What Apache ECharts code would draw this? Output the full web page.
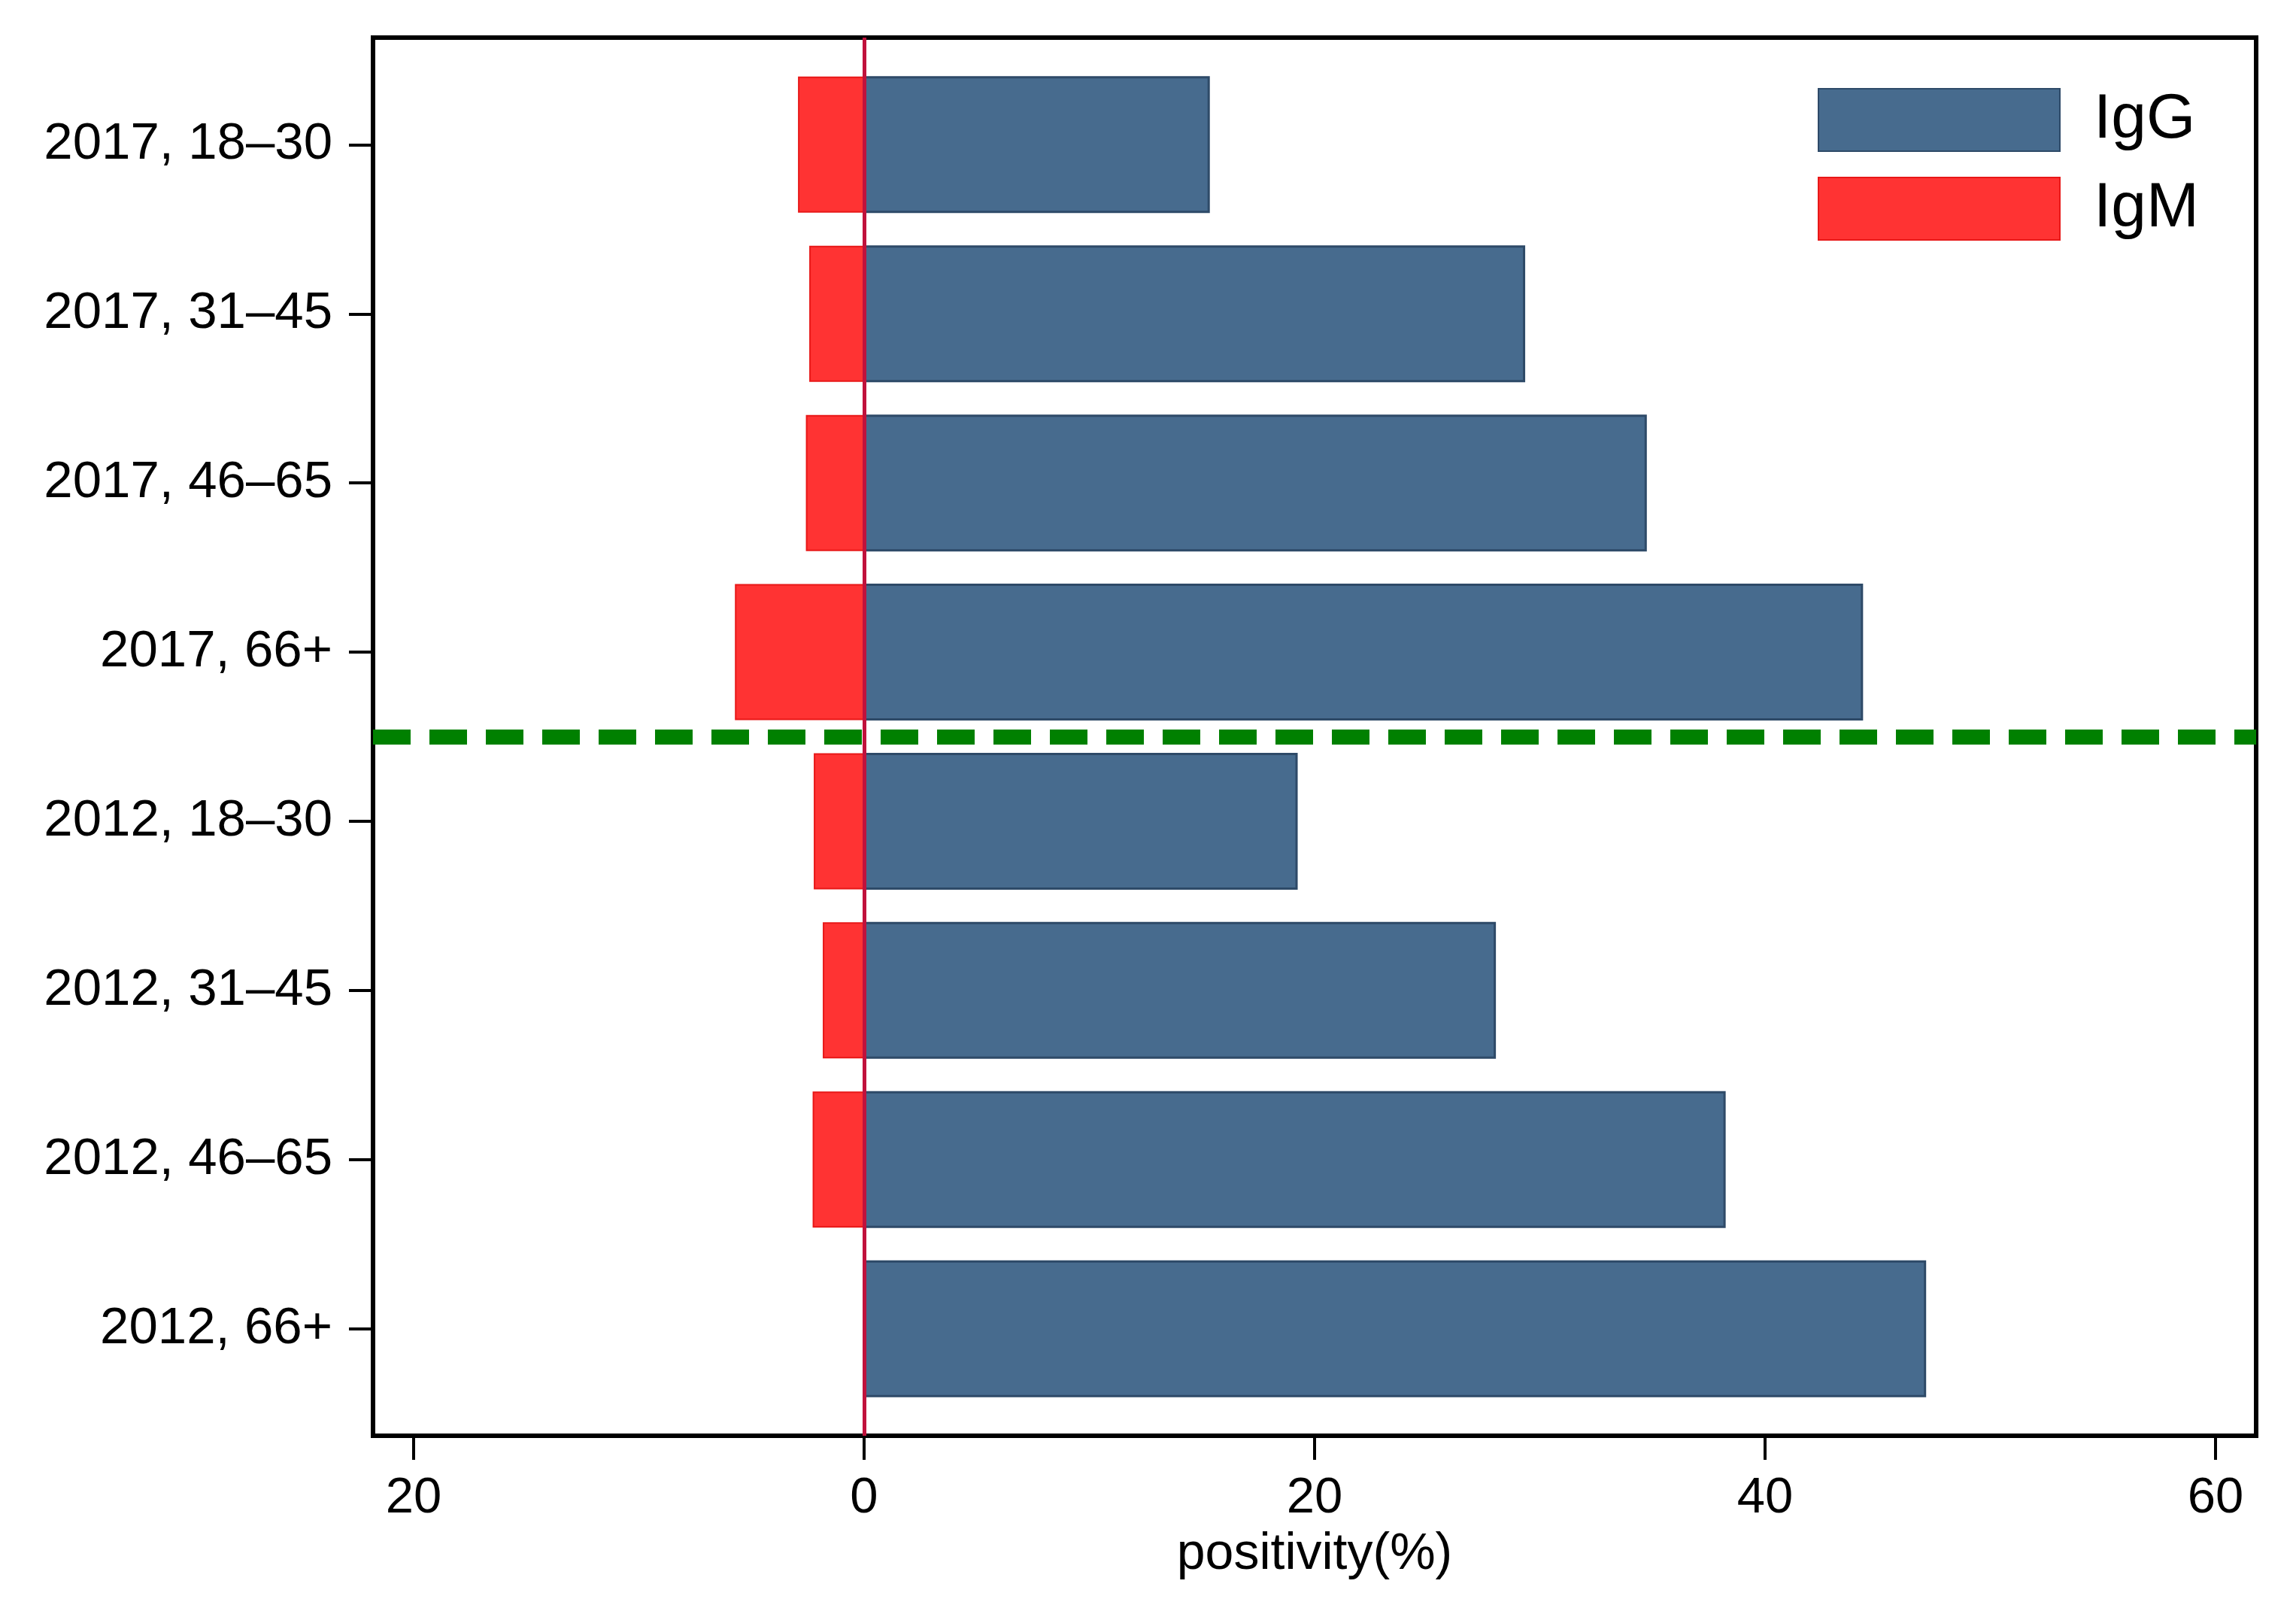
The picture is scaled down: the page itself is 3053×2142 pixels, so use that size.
<!DOCTYPE html>
<html>
<head>
<meta charset="utf-8">
<script src="https://cdn.jsdelivr.net/npm/echarts@6/dist/echarts.min.js"></script>
<style>
html,body{margin:0;padding:0;background:#fff;}
#c{width:3053px;height:2142px;}
</style>
</head>
<body>
<div id="c"></div>
<script>
// ---- data ----
const categories = ['2017, 18–30','2017, 31–45','2017, 46–65','2017, 66+','2012, 18–30','2012, 31–45','2012, 46–65','2012, 66+'];
const igG = [15.3, 29.3, 34.7, 44.3, 19.2, 28.0, 38.2, 47.1];
const igM = [2.9, 2.4, 2.55, 5.7, 2.2, 1.8, 2.25, 0];
const xTicks = [-20, 0, 20, 40, 60];
const yTicks = [0, 1, 2, 3, 4, 5, 6, 7];
const separatorAt = 3.5;

const FONT = '"Liberation Sans", Arial, Helvetica, sans-serif';
const BAR_FRAC = 0.796;
const chart = echarts.init(document.getElementById('c'), null, {renderer: 'canvas'});

function renderBar(params, api) {
  const v = api.value(0), i = api.value(1);
  if (!v) return null;
  const p0 = api.coord([0, i]);
  const p1 = api.coord([v, i]);
  const h = api.size([0, 1])[1] * BAR_FRAC;
  return {
    type: 'rect',
    shape: {x: Math.min(p0[0], p1[0]), y: p0[1] - h / 2, width: Math.abs(p1[0] - p0[0]), height: h},
    style: api.style()
  };
}

chart.setOption({
  backgroundColor: '#ffffff',
  animation: false,
  textStyle: {fontFamily: FONT, color: '#000'},
  grid: {
    left: 496, right: 53, top: 50, bottom: 233,
    show: true, borderColor: '#000', borderWidth: 6, backgroundColor: '#fff'
  },
  legend: {
    orient: 'vertical', left: 2412, top: 112,
    itemWidth: 321, itemHeight: 83, itemGap: 33,
    icon: 'rect',
    data: ['IgG', 'IgM'],
    textStyle: {fontSize: 84, lineHeight: 83, fontFamily: FONT, color: '#000', padding: [0, 0, 0, 40]}
  },
  xAxis: {
    type: 'value', min: -21.8, max: 61.8, position: 'bottom',
    name: 'positivity(%)', nameLocation: 'middle', nameGap: 124,
    nameTextStyle: {fontSize: 68, fontFamily: FONT, color: '#000'},
    axisLine: {show: false, onZero: false},
    splitLine: {show: false},
    axisTick: {show: true, inside: false, customValues: xTicks, length: 32, lineStyle: {color: '#000', width: 4}},
    axisLabel: {customValues: xTicks, fontSize: 67, margin: 50, color: '#000', fontFamily: FONT,
      formatter: v => String(Math.abs(v))}
  },
  yAxis: {
    type: 'value', inverse: true, min: -0.633, max: 7.633, position: 'left',
    axisLine: {show: false, onZero: false},
    splitLine: {show: false},
    axisTick: {show: true, inside: false, customValues: yTicks, length: 32, lineStyle: {color: '#000', width: 4}},
    axisLabel: {customValues: yTicks, fontSize: 69, margin: 54, color: '#000', fontFamily: FONT,
      formatter: v => categories[Math.round(v)] || ''}
  },
  series: [
    {
      name: 'IgG', type: 'custom', renderItem: renderBar,
      encode: {x: 0, y: 1},
      data: igG.map((v, i) => [v, i]),
      itemStyle: {color: '#476b8e', borderColor: '#2e4a68', borderWidth: 3},
      z: 2
    },
    {
      name: 'IgM', type: 'custom', renderItem: renderBar,
      encode: {x: 0, y: 1},
      data: igM.map((v, i) => [-v, i]),
      itemStyle: {color: '#ff3333', borderColor: '#e81818', borderWidth: 2},
      z: 2,
      markLine: {
        silent: true, symbol: 'none', label: {show: false}, z: 10,
        data: [
          {yAxis: separatorAt, lineStyle: {color: '#008000', width: 20, type: [50, 25]}},
          {xAxis: 0, lineStyle: {color: '#c0123c', width: 5, type: 'solid'}}
        ]
      }
    }
  ]
});
</script>
</body>
</html>
